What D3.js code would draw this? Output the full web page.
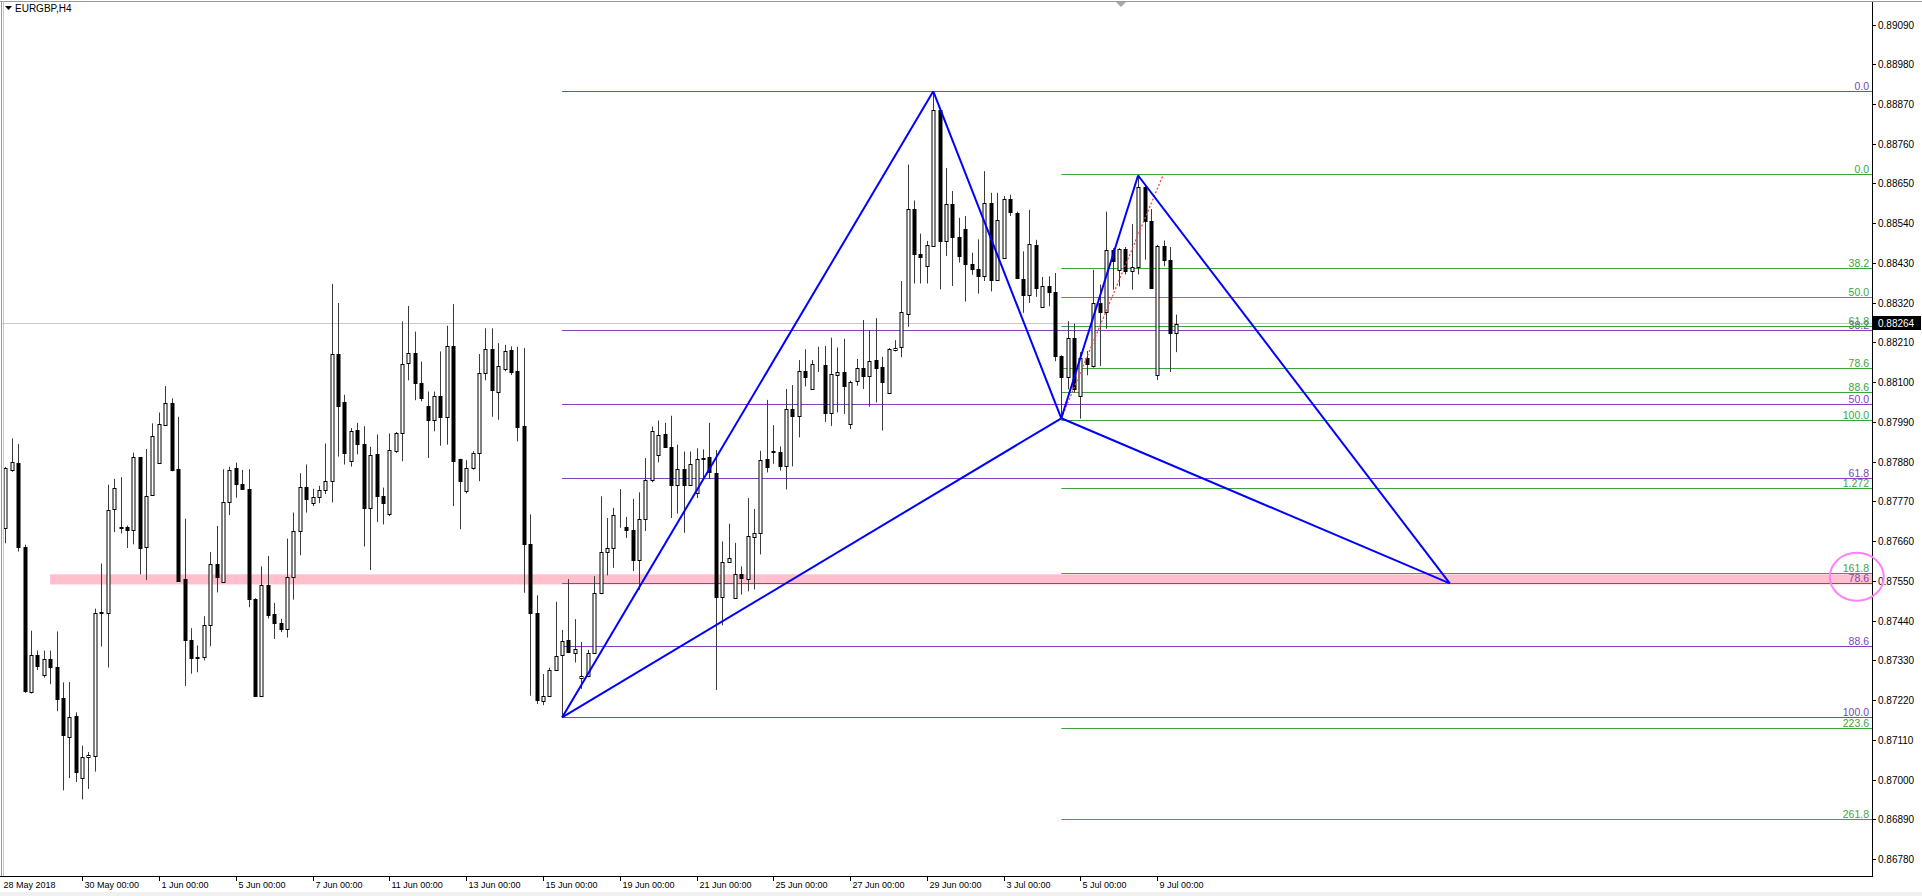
<!DOCTYPE html>
<html>
<head>
<meta charset="utf-8">
<script src="https://cdn.jsdelivr.net/npm/d3@7"></script>
<style>
  body { margin: 0; background: #fff; }
  svg { display: block; font-family: "Liberation Sans", Arial, sans-serif; }
</style>
</head>
<body>
<svg id="chart"></svg>
<script>
// EURGBP H4 candles, one row per bar: [open, high, low, close]
var ohlc = [
  [0.87695,0.87865,0.87654,0.87862],[0.87857,0.87944,0.87852,0.87878],[0.87875,0.87929,0.87631,0.87645],
  [0.87643,0.87650,0.87240,0.87244],[0.87242,0.87412,0.87238,0.87345],[0.87344,0.87357,0.87303,0.87315],
  [0.87290,0.87357,0.87282,0.87334],[0.87334,0.87357,0.87264,0.87311],[0.87311,0.87410,0.87189,0.87223],
  [0.87225,0.87269,0.86970,0.87122],[0.87118,0.87270,0.87004,0.87173],[0.87177,0.87186,0.86993,0.87020],
  [0.87004,0.87094,0.86945,0.87062],[0.87062,0.87076,0.86974,0.87068],[0.87064,0.87473,0.87022,0.87462],
  [0.87462,0.87598,0.87368,0.87464],[0.87460,0.87816,0.87310,0.87747],[0.87749,0.87832,0.87685,0.87807],
  [0.87699,0.87837,0.87681,0.87697],[0.87698,0.87703,0.87641,0.87690],[0.87692,0.87905,0.87651,0.87894],
  [0.87892,0.87893,0.87568,0.87641],[0.87644,0.87915,0.87552,0.87786],[0.87787,0.87986,0.87785,0.87951],
  [0.87876,0.88016,0.87874,0.87984],[0.87982,0.88089,0.87980,0.88043],[0.88043,0.88055,0.87853,0.87858],
  [0.87859,0.88004,0.87548,0.87550],[0.87555,0.87722,0.87259,0.87385],[0.87385,0.87419,0.87293,0.87336],
  [0.87339,0.87371,0.87297,0.87337],[0.87339,0.87452,0.87330,0.87428],[0.87428,0.87630,0.87369,0.87596],
  [0.87596,0.87702,0.87518,0.87560],[0.87546,0.87859,0.87544,0.87767],[0.87767,0.87866,0.87732,0.87856],
  [0.87863,0.87877,0.87780,0.87817],[0.87817,0.87857,0.87803,0.87805],[0.87805,0.87859,0.87477,0.87500],
  [0.87500,0.87502,0.87229,0.87231],[0.87231,0.87590,0.87229,0.87539],[0.87539,0.87619,0.87446,0.87456],
  [0.87458,0.87489,0.87389,0.87433],[0.87433,0.87445,0.87408,0.87417],[0.87417,0.87667,0.87393,0.87561],
  [0.87561,0.87739,0.87498,0.87688],[0.87688,0.87848,0.87621,0.87811],[0.87811,0.87872,0.87739,0.87776],
  [0.87765,0.87805,0.87757,0.87783],[0.87783,0.87813,0.87765,0.87801],[0.87802,0.87930,0.87790,0.87825],
  [0.87825,0.88372,0.87767,0.88178],[0.88178,0.88319,0.87894,0.88033],[0.88045,0.88065,0.87872,0.87904],
  [0.87881,0.87973,0.87866,0.87966],[0.87967,0.87987,0.87900,0.87930],[0.87930,0.87978,0.87645,0.87751],
  [0.87751,0.87921,0.87580,0.87897],[0.87900,0.87955,0.87713,0.87785],[0.87785,0.87808,0.87706,0.87766],
  [0.87734,0.87958,0.87729,0.87913],[0.87910,0.87962,0.87904,0.87959],[0.87959,0.88268,0.87881,0.88151],
  [0.88153,0.88311,0.88105,0.88182],[0.88182,0.88240,0.88050,0.88099],[0.88099,0.88157,0.88047,0.88056],
  [0.88033,0.88074,0.87890,0.87996],[0.87996,0.88074,0.87964,0.88062],[0.88062,0.88185,0.87924,0.88004],
  [0.88004,0.88256,0.87927,0.88199],[0.88199,0.88316,0.87757,0.87883],[0.87886,0.87888,0.87693,0.87826],
  [0.87798,0.87884,0.87792,0.87863],[0.87863,0.87909,0.87858,0.87904],[0.87904,0.88178,0.87826,0.88125],
  [0.88125,0.88249,0.88105,0.88191],[0.88191,0.88249,0.88004,0.88079],[0.88074,0.88208,0.87996,0.88145],
  [0.88136,0.88203,0.88130,0.88187],[0.88188,0.88199,0.88120,0.88127],[0.88131,0.88198,0.87936,0.87977],
  [0.87979,0.88194,0.87517,0.87651],[0.87651,0.87734,0.87232,0.87462],[0.87462,0.87510,0.87209,0.87221],
  [0.87218,0.87292,0.87206,0.87232],[0.87230,0.87310,0.87228,0.87304],[0.87304,0.87492,0.87301,0.87341],
  [0.87344,0.87414,0.87172,0.87384],[0.87387,0.87555,0.87350,0.87352],[0.87350,0.87444,0.87324,0.87361],
  [0.87280,0.87381,0.87251,0.87287],[0.87287,0.87359,0.87283,0.87350],[0.87350,0.87563,0.87348,0.87517],
  [0.87515,0.87784,0.87513,0.87630],[0.87630,0.87724,0.87565,0.87642],[0.87642,0.87752,0.87586,0.87731],
  [0.87701,0.87804,0.87697,0.87702],[0.87700,0.87727,0.87669,0.87690],[0.87692,0.87777,0.87577,0.87608],
  [0.87608,0.87795,0.87525,0.87722],[0.87722,0.87890,0.87688,0.87830],[0.87830,0.87977,0.87823,0.87966],
  [0.87897,0.87994,0.87878,0.87955],[0.87957,0.87987,0.87918,0.87920],[0.87920,0.88007,0.87724,0.87816],
  [0.87816,0.87927,0.87736,0.87860],[0.87860,0.87908,0.87683,0.87816],[0.87816,0.87908,0.87814,0.87874],
  [0.87793,0.87917,0.87779,0.87887],[0.87887,0.87914,0.87834,0.87889],[0.87892,0.87987,0.87832,0.87852],
  [0.87848,0.87912,0.87248,0.87506],[0.87506,0.87659,0.87427,0.87601],[0.87601,0.87708,0.87600,0.87613],
  [0.87503,0.87655,0.87501,0.87569],[0.87569,0.87590,0.87512,0.87557],[0.87555,0.87779,0.87521,0.87675],
  [0.87671,0.87749,0.87526,0.87682],[0.87682,0.87910,0.87623,0.87885],[0.87887,0.88051,0.87850,0.87864],
  [0.87910,0.87981,0.87874,0.87906],[0.87908,0.87922,0.87855,0.87867],[0.87867,0.88081,0.87803,0.88025],
  [0.88025,0.88092,0.87867,0.88007],[0.88007,0.88161,0.87947,0.88131],[0.88131,0.88191,0.88088,0.88113],
  [0.88082,0.88161,0.88080,0.88150],[0.88149,0.88198,0.88128,0.88151],[0.88147,0.88200,0.87990,0.88014],
  [0.88014,0.88223,0.87979,0.88122],[0.88119,0.88196,0.88016,0.88127],[0.88128,0.88220,0.88012,0.88088],
  [0.87984,0.88104,0.87970,0.88101],[0.88102,0.88164,0.88090,0.88139],[0.88139,0.88272,0.88081,0.88118],
  [0.88118,0.88242,0.88032,0.88159],[0.88161,0.88277,0.88044,0.88139],[0.88141,0.88170,0.87966,0.88100],
  [0.88069,0.88194,0.88067,0.88192],[0.88190,0.88216,0.88185,0.88194],[0.88196,0.88380,0.88169,0.88293],
  [0.88290,0.88702,0.88253,0.88580],[0.88580,0.88603,0.88373,0.88454],[0.88456,0.88511,0.88373,0.88446],
  [0.88422,0.88491,0.88373,0.88481],[0.88477,0.88905,0.88475,0.88854],[0.88854,0.88856,0.88357,0.88491],
  [0.88491,0.88693,0.88449,0.88594],[0.88594,0.88629,0.88366,0.88502],[0.88502,0.88555,0.88431,0.88449],
  [0.88523,0.88560,0.88323,0.88426],[0.88426,0.88458,0.88397,0.88412],[0.88412,0.88495,0.88345,0.88394],
  [0.88394,0.88684,0.88380,0.88596],[0.88596,0.88624,0.88351,0.88382],[0.88382,0.88624,0.88380,0.88548],
  [0.88445,0.88615,0.88443,0.88608],[0.88608,0.88619,0.88560,0.88572],[0.88569,0.88572,0.88386,0.88388],
  [0.88386,0.88462,0.88292,0.88340],[0.88340,0.88577,0.88319,0.88483],[0.88480,0.88494,0.88336,0.88361],
  [0.88308,0.88391,0.88306,0.88365],[0.88365,0.88393,0.88310,0.88349],[0.88349,0.88402,0.88158,0.88172],
  [0.88172,0.88174,0.88000,0.88115],[0.88115,0.88269,0.88080,0.88223],[0.88223,0.88262,0.88071,0.88082],
  [0.88062,0.88183,0.87999,0.88168],[0.88168,0.88186,0.88119,0.88149],[0.88146,0.88411,0.88140,0.88318],
  [0.88318,0.88370,0.88145,0.88294],[0.88294,0.88572,0.88248,0.88465],[0.88465,0.88471,0.88356,0.88434],
  [0.88411,0.88471,0.88365,0.88468],[0.88468,0.88474,0.88398,0.88407],[0.88407,0.88538,0.88356,0.88419],
  [0.88419,0.88674,0.88398,0.88641],[0.88641,0.88643,0.88439,0.88545],[0.88545,0.88579,0.88359,0.88361],
  [0.88119,0.88480,0.88106,0.88478],[0.88478,0.88492,0.88421,0.88439],[0.88439,0.88474,0.88128,0.88235],
  [0.88235,0.88287,0.88183,0.88262]
];

// time axis labels (bar index, text)
var dateBars   = [0, 12, 24, 36, 48, 60, 72, 84, 96, 108, 120, 132, 144, 156, 168, 180];
var dateLabels = ["28 May 2018", "30 May 00:00", "1 Jun 00:00", "5 Jun 00:00", "7 Jun 00:00",
                  "11 Jun 00:00", "13 Jun 00:00", "15 Jun 00:00", "19 Jun 00:00", "21 Jun 00:00",
                  "25 Jun 00:00", "27 Jun 00:00", "29 Jun 00:00", "3 Jul 00:00", "5 Jul 00:00", "9 Jul 00:00"];

// price scale labels
var priceTicks = [0.89090, 0.88980, 0.88870, 0.88760, 0.88650, 0.88540, 0.88430, 0.88320, 0.88210,
                  0.88100, 0.87990, 0.87880, 0.87770, 0.87660, 0.87550, 0.87440, 0.87330, 0.87220,
                  0.87110, 0.87000, 0.86890, 0.86780];
var bidPrice = 0.88264;

// fibo X->A (purple), starts at bar 87
var fibPurpleLabels = ["0.0", "38.2", "50.0", "61.8", "78.6", "88.6", "100.0"];
var fibPurplePrices = [0.88906, 0.88244, 0.88039, 0.87834, 0.87543, 0.87370, 0.87172];
// fibo C->B extension (green), starts at bar 165
var fibGreenLabels = ["0.0", "38.2", "50.0", "61.8", "78.6", "88.6", "100.0", "1.272", "161.8", "223.6", "261.8"];
var fibGreenPrices = [0.88676, 0.88415, 0.88335, 0.88255, 0.88140, 0.88072, 0.87994, 0.87806, 0.87573, 0.87142, 0.86891];

// harmonic pattern points X A B C D
var patternBars   = [87, 145, 165, 177, 225.7];
var patternPrices = [0.87172, 0.88905, 0.88000, 0.88672, 0.87543];
var patternLegs = [[0, 1], [1, 2], [2, 3], [3, 4], [0, 2], [2, 4]];

// red dotted trendline
var trendBars = [165, 180.9];
var trendPrices = [0.88000, 0.88673];

// pink zone
var zoneBarStart = 7;
var zonePrices = [0.87568, 0.87540];

// circle mark on the price scale
var markBar = 289.3, markPrice = 0.87561;

var W = 1922, H = 896;
var plotRight = 1872, plotBottom = 876;

var svg = d3.select("#chart").attr("width", W).attr("height", H);

var x = d3.scaleLinear().domain([0, 180]).range([5.3, 1157.3]);
var y = d3.scaleLinear().domain([0.86780, 0.89090]).range([859, 24.5]);

var purple = "#8042c0", green = "#3da43d";

svg.append("rect").attr("width", W).attr("height", H).attr("fill", "#fff");
svg.append("rect").attr("x", 0).attr("y", 892).attr("width", W).attr("height", 4).attr("fill", "#f0f0f0");

svg.append("clipPath").attr("id", "plotclip")
  .append("rect").attr("x", 2).attr("y", 2).attr("width", plotRight - 2).attr("height", plotBottom - 2);

var g = svg.append("g").attr("clip-path", "url(#plotclip)");

// pink zone
g.append("rect")
  .attr("x", x(zoneBarStart))
  .attr("y", y(zonePrices[0]))
  .attr("width", plotRight - x(zoneBarStart))
  .attr("height", y(zonePrices[1]) - y(zonePrices[0]))
  .attr("fill", "#ffc0cb");

// bid line
g.append("line")
  .attr("x1", 0).attr("x2", plotRight)
  .attr("y1", Math.round(y(bidPrice)) + 0.5).attr("y2", Math.round(y(bidPrice)) + 0.5)
  .attr("stroke", "#c8c8c8").attr("stroke-width", 1);

// fibo levels
function fibLines(prices, labels, startBar, color) {
  var lv = g.append("g");
  lv.selectAll("line").data(prices).enter().append("line")
    .attr("x1", x(startBar)).attr("x2", plotRight)
    .attr("y1", function(d) { return Math.round(y(d)) + 0.5; })
    .attr("y2", function(d) { return Math.round(y(d)) + 0.5; })
    .attr("stroke", color).attr("stroke-width", 1.2);
  lv.selectAll("text").data(prices).enter().append("text")
    .attr("x", 1869)
    .attr("y", function(d) { return Math.round(y(d)) - 1.5; })
    .attr("text-anchor", "end")
    .attr("font-size", "10.5px")
    .attr("fill", color)
    .text(function(d, i) { return labels[i]; });
}
fibLines(fibPurplePrices, fibPurpleLabels, patternBars[0], purple);
fibLines(fibGreenPrices, fibGreenLabels, patternBars[2], green);

// candles
var candles = g.append("g").selectAll("g").data(ohlc).enter().append("g");
candles.append("line")
  .attr("x1", function(d, i) { return Math.round(x(i)) + 0.5; })
  .attr("x2", function(d, i) { return Math.round(x(i)) + 0.5; })
  .attr("y1", function(d) { return y(d[1]); })
  .attr("y2", function(d) { return y(d[2]); })
  .attr("stroke", "#3a3a3a").attr("stroke-width", 1);
candles.append("rect")
  .attr("x", function(d, i) { return Math.round(x(i)) - 1; })
  .attr("y", function(d) { return Math.round(y(Math.max(d[0], d[3]))) + 0.5; })
  .attr("width", 3)
  .attr("height", function(d) { return Math.max(0, Math.round(y(Math.min(d[0], d[3]))) - Math.round(y(Math.max(d[0], d[3])))); })
  .attr("fill", function(d) { return d[3] >= d[0] ? "#fff" : "#000"; })
  .attr("stroke", "#000").attr("stroke-width", 1);

// red dotted trendline
g.append("line")
  .attr("x1", x(trendBars[0])).attr("y1", y(trendPrices[0]))
  .attr("x2", x(trendBars[1])).attr("y2", y(trendPrices[1]))
  .attr("stroke", "#f04848").attr("stroke-width", 1.3).attr("stroke-dasharray", "2,2");

// pattern legs
var pLine = d3.line()
  .x(function(k) { return x(patternBars[k]); })
  .y(function(k) { return y(patternPrices[k]); });
g.append("g").selectAll("path").data(patternLegs).enter().append("path")
  .attr("d", pLine)
  .attr("fill", "none").attr("stroke", "#0000ff").attr("stroke-width", 2);

// frame and axes
svg.append("line").attr("x1", 0).attr("x2", W).attr("y1", 1.5).attr("y2", 1.5).attr("stroke", "#9a9a9a");
svg.append("line").attr("x1", 1.5).attr("x2", 1.5).attr("y1", 1).attr("y2", plotBottom).attr("stroke", "#9a9a9a");
svg.append("line").attr("x1", 3.5).attr("x2", 3.5).attr("y1", 2).attr("y2", plotBottom).attr("stroke", "#c8c8c8");
svg.append("line").attr("x1", plotRight + 0.5).attr("x2", plotRight + 0.5).attr("y1", 2).attr("y2", plotBottom + 1)
  .attr("stroke", "#000");
svg.append("line").attr("x1", 0).attr("x2", plotRight + 1).attr("y1", plotBottom + 0.5).attr("y2", plotBottom + 0.5)
  .attr("stroke", "#000");

// price scale
var pAxis = svg.append("g").selectAll("g").data(priceTicks).enter().append("g")
  .attr("transform", function(d) { return "translate(" + plotRight + "," + (Math.round(y(d)) + 0.5) + ")"; });
pAxis.append("line").attr("x1", 0).attr("x2", 4).attr("stroke", "#000");
pAxis.append("text").attr("x", 6).attr("dy", "0.35em")
  .attr("font-size", "10px").attr("fill", "#000")
  .text(function(d) { return d.toFixed(5); });

// bid label
var by = Math.round(y(bidPrice));
svg.append("rect").attr("x", plotRight + 1).attr("y", by - 7).attr("width", 48).attr("height", 14).attr("fill", "#000");
svg.append("text").attr("x", plotRight + 6).attr("y", by).attr("dy", "0.35em")
  .attr("font-size", "10px").attr("fill", "#fff").text(bidPrice.toFixed(5));

// time scale
var tAxis = svg.append("g").selectAll("g").data(dateBars).enter().append("g")
  .attr("transform", function(d) { return "translate(" + (Math.round(x(d)) + 0.5) + "," + plotBottom + ")"; });
tAxis.filter(function(d, i) { return i > 0; }).append("line")
  .attr("y1", 0).attr("y2", 5).attr("stroke", "#000");
tAxis.append("text")
  .attr("x", function(d, i) { return i === 0 ? -2 : 2; })
  .attr("y", 12)
  .attr("font-size", "9px").attr("fill", "#000")
  .text(function(d, i) { return dateLabels[i]; });

// circle on the level labels
svg.append("ellipse")
  .attr("cx", x(markBar)).attr("cy", y(markPrice))
  .attr("rx", 27).attr("ry", 24)
  .attr("fill", "none").attr("stroke", "#ff80ff").attr("stroke-width", 2);

// title and chart shift marker
svg.append("path").attr("d", "M5,6 L12,6 L8.5,10 Z").attr("fill", "#000");
svg.append("text").attr("x", 15).attr("y", 12).attr("font-size", "10px").attr("fill", "#000").text("EURGBP,H4");
svg.append("path").attr("d", "M1116,2 L1126,2 L1121,7 Z").attr("fill", "#a8a8a8");
</script>
</body>
</html>
